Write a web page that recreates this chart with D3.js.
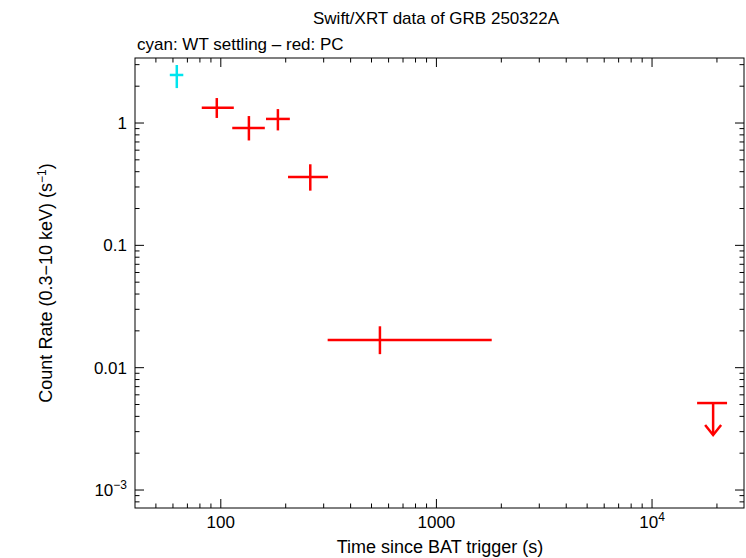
<!DOCTYPE html>
<html><head><meta charset="utf-8">
<script src="https://cdn.jsdelivr.net/npm/d3@7"></script>
<style>body{margin:0;background:#fff}text{font-family:"Liberation Sans",Arial,sans-serif}</style>
</head><body><div id="chart"></div>
<script>
// WT settling (cyan)
var wtT = [62.5], wtLo = [58], wtHi = [67], wtR = [2.47], wtRLo = [1.93], wtRHi = [2.98];
// PC (red)
var pcT   = [95.8, 135, 184, 260, 547];
var pcLo  = [81.6, 113, 162, 205, 313];
var pcHi  = [114.9, 160, 209, 314, 1805];
var pcR   = [1.33, 0.91, 1.08, 0.362, 0.0168];
var pcRLo = [1.1, 0.72, 0.87, 0.28, 0.0129];
var pcRHi = [1.6, 1.14, 1.3, 0.46, 0.0218];
// upper limit
var ulT = [19200], ulLo = [16180], ulHi = [22280], ulR = [0.00514];

var margin = {top: 58, right: 2, bottom: 50, left: 135};
var width = 746 - margin.left - margin.right;
var height = 558 - margin.top - margin.bottom;

var svg = d3.select("#chart").append("svg").attr("width", 746).attr("height", 558);
var g = svg.append("g").attr("transform", "translate(" + margin.left + "," + margin.top + ")");

var x = d3.scaleLog().domain([40, 26700]).range([0, width]);
var y = d3.scaleLog().domain([10 ** -3.147, 3.4]).range([height, 0]);

g.append("rect").attr("width", width).attr("height", height).attr("fill", "none").attr("stroke", "#000");

// ticks
var xMinor = [], yMinor = [];
for (var e = 1; e <= 4; e++) for (var m = 1; m < 10; m++) { var v = m * 10 ** e; if (v > 40 && v < 26700) xMinor.push(v); }
for (var e = -4; e <= 0; e++) for (var m = 1; m < 10; m++) { var v = m * 10 ** e; if (v > 10 ** -3.147 && v < 3.4) yMinor.push(v); }
xMinor.forEach(function(v) {
  var len = [100, 1000, 10000].indexOf(v) >= 0 ? 9 : 4.5;
  g.append("line").attr("x1", x(v)).attr("x2", x(v)).attr("y1", height).attr("y2", height - len).attr("stroke", "#000");
  g.append("line").attr("x1", x(v)).attr("x2", x(v)).attr("y1", 0).attr("y2", len).attr("stroke", "#000");
});
yMinor.forEach(function(v) {
  var len = [1, 0.1, 0.01, 0.001].some(function(d) { return Math.abs(d - v) < 1e-9; }) ? 9 : 4.5;
  g.append("line").attr("y1", y(v)).attr("y2", y(v)).attr("x1", 0).attr("x2", len).attr("stroke", "#000");
  g.append("line").attr("y1", y(v)).attr("y2", y(v)).attr("x1", width).attr("x2", width - len).attr("stroke", "#000");
});

var xLabels = [[100, "100"], [1000, "1000"]];
xLabels.forEach(function(d) {
  g.append("text").attr("x", x(d[0])).attr("y", height + 20).attr("text-anchor", "middle").attr("font-size", 17).text(d[1]);
});
var t4 = g.append("text").attr("x", x(10000)).attr("y", height + 20).attr("text-anchor", "middle").attr("font-size", 17);
t4.append("tspan").text("10");
t4.append("tspan").attr("dy", -7).attr("font-size", 12).text("4");

[[1, "1"], [0.1, "0.1"], [0.01, "0.01"]].forEach(function(d) {
  g.append("text").attr("x", -8).attr("y", y(d[0]) + 6).attr("text-anchor", "end").attr("font-size", 17).text(d[1]);
});
var t3 = g.append("text").attr("x", -8).attr("y", y(0.001) + 6).attr("text-anchor", "end").attr("font-size", 17);
t3.append("tspan").text("10");
t3.append("tspan").attr("dy", -7).attr("font-size", 12).text("−3");

svg.append("text").attr("x", 440).attr("y", 553).attr("text-anchor", "middle").attr("font-size", 18).text("Time since BAT trigger (s)");
var yl = svg.append("text").attr("transform", "translate(52,283) rotate(-90)").attr("text-anchor", "middle").attr("font-size", 18);
yl.append("tspan").text("Count Rate (0.3−10 keV) (s");
yl.append("tspan").attr("dy", -6).attr("font-size", 12).text("−1");
yl.append("tspan").attr("dy", 6).text(")");

svg.append("text").attr("x", 436).attr("y", 24).attr("text-anchor", "middle").attr("font-size", 17).text("Swift/XRT data of GRB 250322A");
svg.append("text").attr("x", 137).attr("y", 50).attr("font-size", 17).text("cyan: WT settling – red: PC");

function cross(t, lo, hi, r, rlo, rhi, col) {
  t.forEach(function(d, i) {
    g.append("line").attr("x1", x(lo[i])).attr("x2", x(hi[i])).attr("y1", y(r[i])).attr("y2", y(r[i])).attr("stroke", col).attr("stroke-width", 2.5);
    g.append("line").attr("x1", x(d)).attr("x2", x(d)).attr("y1", y(rlo[i])).attr("y2", y(rhi[i])).attr("stroke", col).attr("stroke-width", 2.5);
  });
}
cross(wtT, wtLo, wtHi, wtR, wtRLo, wtRHi, "#00e5ee");
cross(pcT, pcLo, pcHi, pcR, pcRLo, pcRHi, "#ff0000");

ulT.forEach(function(d, i) {
  var yy = y(ulR[i]), xc = x(d);
  g.append("line").attr("x1", x(ulLo[i])).attr("x2", x(ulHi[i])).attr("y1", yy).attr("y2", yy).attr("stroke", "red").attr("stroke-width", 2.5);
  g.append("line").attr("x1", xc).attr("x2", xc).attr("y1", yy).attr("y2", yy + 32).attr("stroke", "red").attr("stroke-width", 2.5);
  g.append("path").attr("d", "M" + (xc - 8) + "," + (yy + 22) + "L" + xc + "," + (yy + 32) + "L" + (xc + 8) + "," + (yy + 22))
    .attr("fill", "none").attr("stroke", "red").attr("stroke-width", 2.5);
});
</script></body></html>
